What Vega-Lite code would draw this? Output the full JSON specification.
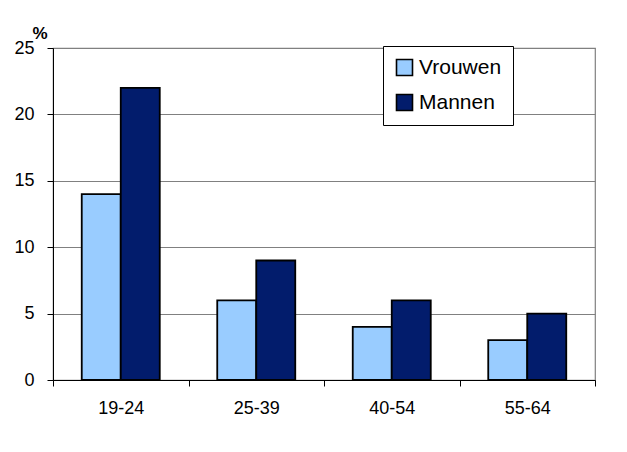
{
  "$schema": "https://vega.github.io/schema/vega-lite/v6.json",
  "autosize": {"type": "none"},
  "width": 542,
  "height": 332,
  "padding": {"left": 53, "top": 48, "right": 32, "bottom": 72},
  "background": "white",
  "data": {"values": [
    {"leeftijd": "19-24", "geslacht": "Vrouwen", "pct": 14},
    {"leeftijd": "19-24", "geslacht": "Mannen", "pct": 22},
    {"leeftijd": "25-39", "geslacht": "Vrouwen", "pct": 6},
    {"leeftijd": "25-39", "geslacht": "Mannen", "pct": 9},
    {"leeftijd": "40-54", "geslacht": "Vrouwen", "pct": 4},
    {"leeftijd": "40-54", "geslacht": "Mannen", "pct": 6},
    {"leeftijd": "55-64", "geslacht": "Vrouwen", "pct": 3},
    {"leeftijd": "55-64", "geslacht": "Mannen", "pct": 5}
  ]},
  "mark": {"type": "bar", "stroke": "black", "strokeWidth": 1.8},
  "encoding": {
    "x": {
      "field": "leeftijd", "type": "nominal",
      "scale": {"paddingInner": 0, "paddingOuter": 0},
      "axis": {
        "title": null, "labelAngle": 0, "tickBand": "extent",
        "domainColor": "black", "tickColor": "black", "tickSize": 6,
        "labelFont": "Liberation Sans", "labelFontSize": 18, "labelColor": "black",
        "labelPadding": 13, "grid": false
      }
    },
    "xOffset": {
      "field": "geslacht", "type": "nominal", "sort": ["Vrouwen", "Mannen"],
      "scale": {"paddingInner": 0, "paddingOuter": 0.737}
    },
    "y": {
      "field": "pct", "type": "quantitative",
      "scale": {"domain": [0, 25], "nice": false},
      "axis": {
        "title": "%", "titleAngle": 0, "titleAlign": "left", "titleBaseline": "alphabetic",
        "titleX": -21, "titleY": -10, "titleFont": "Liberation Sans", "titleFontSize": 17,
        "titleFontWeight": "bold", "titleColor": "black",
        "values": [0, 5, 10, 15, 20, 25],
        "domainColor": "black", "tickColor": "black", "tickSize": 6,
        "labelFont": "Liberation Sans", "labelFontSize": 18, "labelColor": "black",
        "labelPadding": 13,
        "gridColor": "#808080", "gridWidth": 1.2
      }
    },
    "color": {
      "field": "geslacht", "type": "nominal",
      "scale": {"domain": ["Vrouwen", "Mannen"], "range": ["#99CCFF", "#021C6C"]},
      "legend": {
        "title": null, "orient": "none", "legendX": 330, "legendY": -2,
        "fillColor": "white", "strokeColor": "black", "padding": 11,
        "symbolType": "square", "symbolSize": 256, "symbolStrokeColor": "black",
        "symbolStrokeWidth": 1.6, "labelFont": "Liberation Sans", "labelFontSize": 21,
        "labelColor": "black", "rowPadding": 12, "labelOffset": 4
      }
    }
  },
  "config": {
    "view": {"stroke": "#808080", "strokeWidth": 1.2}
  }
}
